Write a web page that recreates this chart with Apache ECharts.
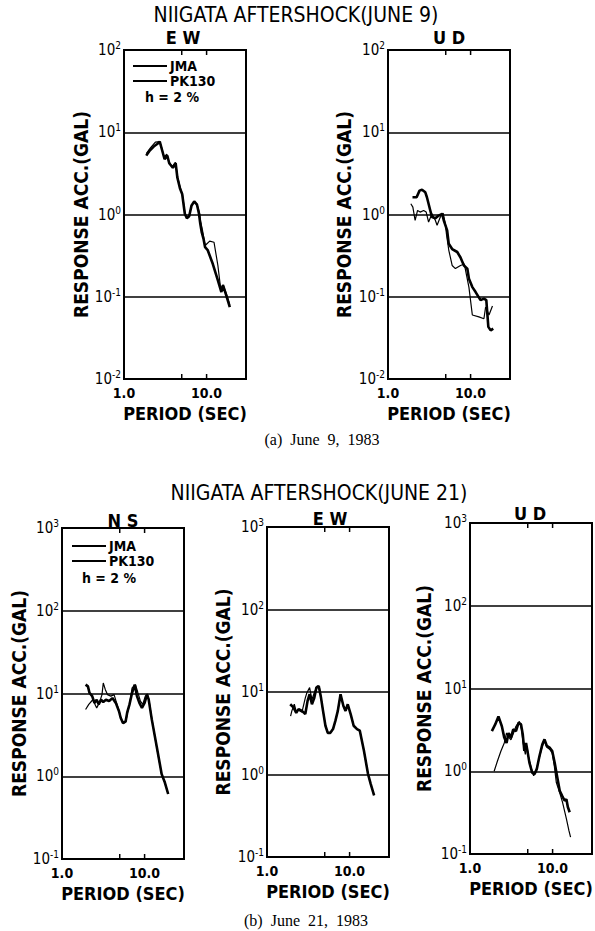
<!DOCTYPE html>
<html>
<head>
<meta charset="utf-8">
<script src="https://cdn.jsdelivr.net/npm/echarts@6/dist/echarts.min.js"></script>
<style>
  html, body { margin: 0; padding: 0; background: #fff; }
  #chart { width: 595px; height: 931px; }
</style>
</head>
<body>
<div id="chart"></div>
<script>
// Acceleration response spectra (damping h = 2 %), points as [period (s), response acc. (gal)]

// June 9, 1983 aftershock
const jun9EwJma = [[1.86,5.2],[2.05,6.0],[2.29,6.7],[2.52,7.2],[2.71,7.7],[2.9,6.0],[3.1,4.7],[3.34,5.2],[3.53,4.2],[3.9,3.7],[4.22,4.2],[4.43,2.8],[4.78,2.05],[5.06,1.78],[5.45,1.02],[5.77,0.9],[6.15,0.95],[6.58,1.29],[7.08,1.44],[7.64,1.32],[8.09,1.02],[8.39,0.77],[8.73,0.61],[9.2,0.5],[9.59,0.4],[10.3,0.37],[11.9,0.25],[13.7,0.158],[15.1,0.114],[15.8,0.138],[17.3,0.104],[19.1,0.075]];
const jun9EwPk130 = [[1.86,5.5],[2.1,6.5],[2.4,7.6],[2.71,7.7],[2.88,6.3],[3.05,5.0],[3.3,5.4],[3.5,4.4],[3.8,3.8],[4.2,4.3],[4.45,2.9],[4.8,2.1],[5.1,1.75],[5.5,1.0],[5.8,0.92],[6.2,1.0],[6.6,1.3],[7.1,1.42],[7.6,1.35],[8.2,1.05],[8.5,0.8],[8.9,0.65],[9.6,0.42],[10.9,0.475],[12.3,0.46],[13.7,0.24],[14.8,0.126],[15.8,0.14],[17.3,0.11],[19.1,0.08]];
const jun9UdJma = [[1.98,1.62],[2.22,1.62],[2.41,1.95],[2.58,2.0],[2.83,1.86],[2.96,1.62],[3.25,1.12],[3.41,0.93],[3.75,0.9],[4.11,0.97],[4.52,1.02],[4.73,0.85],[5.2,0.64],[5.44,0.44],[5.98,0.38],[6.89,0.35],[7.55,0.3],[8.3,0.24],[9.12,0.22],[9.55,0.166],[10.5,0.131],[11.5,0.114],[13.2,0.091],[14.5,0.095],[15.5,0.091],[16.4,0.043],[17.5,0.039],[18.8,0.041]];
const jun9UdPk130 = [[1.89,1.35],[2.0,1.23],[2.13,0.85],[2.28,1.12],[2.45,1.07],[2.7,1.12],[2.9,1.07],[3.1,0.81],[3.41,1.02],[3.74,0.85],[3.93,0.74],[4.3,0.93],[4.65,1.04],[4.95,0.77],[5.1,0.58],[5.44,0.37],[5.98,0.24],[6.55,0.22],[7.55,0.24],[8.4,0.25],[9.55,0.13],[10.5,0.06],[12.6,0.057],[14.5,0.054],[15.2,0.075],[16.7,0.06],[18.4,0.077]];

// June 21, 1983 aftershock
const jun21NsJma = [[1.93,12.8],[2.06,12.2],[2.15,10.2],[2.32,9.3],[2.47,7.7],[2.63,8.4],[2.78,7.4],[2.97,8.4],[3.16,7.9],[3.4,8.4],[3.72,8.1],[4.08,8.8],[4.48,7.7],[4.9,6.1],[5.13,5.1],[5.47,4.4],[5.89,4.6],[6.16,5.9],[6.57,7.4],[7.06,10.2],[7.6,12.8],[8.08,9.3],[8.65,7.7],[9.29,6.7],[10.0,7.7],[10.7,9.7],[11.2,8.5],[12.2,4.9],[14.0,2.3],[16.1,1.06],[17.6,0.84],[19.3,0.61]];
const jun21NsPk130 = [[1.93,6.4],[2.11,7.4],[2.36,8.4],[2.63,6.7],[2.83,7.7],[3.05,9.7],[3.16,13.4],[3.34,11.2],[3.55,9.7],[3.9,9.3],[4.27,9.7],[4.6,7.6],[4.95,6.0],[5.2,4.9],[5.5,4.3],[5.9,4.5],[6.2,5.8],[6.6,7.6],[7.06,11.7],[7.76,12.8],[8.3,10.2],[8.9,8.1],[9.5,7.4],[10.2,9.3],[10.8,9.9],[11.3,8.3],[12.3,4.8],[14.0,2.25],[16.1,1.05],[17.6,0.84],[19.3,0.61]];
const jun21EwJma = [[1.91,7.1],[2.09,6.5],[2.26,5.6],[2.41,6.2],[2.65,5.9],[2.91,5.4],[3.1,7.8],[3.28,9.4],[3.5,7.1],[3.74,8.5],[3.96,11.3],[4.23,11.8],[4.51,8.5],[4.77,5.9],[5.1,3.9],[5.44,3.2],[5.85,3.2],[6.3,3.55],[6.74,4.5],[7.2,5.9],[7.77,9.4],[8.4,6.8],[8.93,5.9],[9.5,7.1],[10.3,5.4],[11.2,3.9],[12.3,3.55],[13.3,3.4],[14.9,1.95],[16.7,1.02],[18.0,0.77],[19.8,0.56]];
const jun21EwPk130 = [[1.93,5.1],[2.0,5.9],[2.14,7.1],[2.26,5.8],[2.41,6.0],[2.65,5.7],[2.91,8.5],[3.04,9.8],[3.28,11.3],[3.5,8.1],[3.74,9.8],[4.06,11.8],[4.3,11.5],[4.51,8.5],[4.77,5.9],[5.1,3.9],[5.44,3.2],[5.85,3.2],[6.3,3.55],[6.74,4.5],[7.2,5.9],[7.77,9.4],[8.4,6.8],[8.93,5.9],[9.5,7.1],[10.3,5.4],[11.2,3.9],[12.3,3.55],[13.3,3.4],[14.9,1.95],[16.7,1.02],[18.0,0.77],[19.8,0.56]];
const jun21UdJma = [[1.84,3.06],[2.02,3.68],[2.21,4.6],[2.43,3.5],[2.6,2.55],[2.77,2.2],[2.93,2.9],[3.13,2.55],[3.34,3.2],[3.6,3.06],[3.88,3.86],[4.15,3.68],[4.35,2.8],[4.55,1.76],[4.77,2.2],[5.0,1.68],[5.24,1.27],[5.66,0.96],[6.03,0.92],[6.43,1.06],[6.94,1.53],[7.5,2.1],[7.98,2.43],[8.52,2.02],[9.2,1.93],[9.9,1.76],[10.6,1.27],[11.3,0.88],[12.2,0.58],[13.1,0.5],[14.0,0.44],[14.7,0.46],[15.3,0.37],[16.1,0.32]];
const jun21UdPk130 = [[1.96,1.0],[2.15,1.33],[2.37,1.76],[2.6,2.2],[2.77,2.9],[2.93,2.6],[3.13,2.4],[3.44,3.06],[3.6,3.5],[3.96,4.0],[4.2,3.2],[4.4,2.2],[4.68,1.6],[4.9,2.0],[5.1,1.5],[5.5,1.1],[5.9,0.88],[6.3,1.0],[6.9,1.45],[7.5,2.0],[8.0,2.3],[8.5,1.95],[9.2,1.85],[9.9,1.65],[10.5,1.15],[11.1,0.73],[12.2,0.55],[13.2,0.42],[14.7,0.265],[15.8,0.19],[16.5,0.16]];

// Axis values and texts
const periodLabels = [1, 10];
const periodTicks = [5, 10];
const seriesNames = ['JMA', 'PK130'];
const titleJun9 = 'NIIGATA AFTERSHOCK(JUNE 9)';
const titleJun21 = 'NIIGATA AFTERSHOCK(JUNE 21)';
const captionJun9 = '(a)  June  9,  1983';
const captionJun21 = '(b)  June  21,  1983';
const dampingNote = 'h = 2 %';
const yAxisTitle = 'RESPONSE ACC.(GAL)';
const xAxisTitle = 'PERIOD (SEC)';

const PERIOD_MIN = 1, PERIOD_MAX = 30;

const SANS = "'Liberation Sans Narrow','DejaVu Sans Condensed','Liberation Sans',Arial,sans-serif";
const SERIF = "'Liberation Serif','DejaVu Serif',serif";

// Panel layout: plot box in pixels plus the decade range of the vertical axis
const panels = [
  { comp: 'EW', box: { left: 124, top: 50, width: 122, height: 329 }, yMin: 0.01, yMax: 100, jma: jun9EwJma, pk: jun9EwPk130, nameGap: 34, tag: [183, 37] },
  { comp: 'UD', box: { left: 388, top: 50, width: 122, height: 329 }, yMin: 0.01, yMax: 100, jma: jun9UdJma, pk: jun9UdPk130, nameGap: 35, tag: [449, 37] },
  { comp: 'NS', box: { left: 62, top: 528, width: 122, height: 331 }, yMin: 0.1, yMax: 1000, jma: jun21NsJma, pk: jun21NsPk130, nameGap: 32, tag: [123, 520] },
  { comp: 'EW', box: { left: 267, top: 527, width: 122, height: 330 }, yMin: 0.1, yMax: 1000, jma: jun21EwJma, pk: jun21EwPk130, nameGap: 35, tag: [330, 518] },
  { comp: 'UD', box: { left: 470, top: 523, width: 122, height: 331 }, yMin: 0.1, yMax: 1000, jma: jun21UdJma, pk: jun21UdPk130, nameGap: 37, tag: [530, 513] }
];

const grids = [], xAxes = [], yAxes = [], series = [];

panels.forEach((p, i) => {
  grids.push(Object.assign({ show: true, borderColor: '#000', borderWidth: 2, backgroundColor: 'transparent' }, p.box));

  xAxes.push({
    type: 'log', logBase: 10, gridIndex: i, min: PERIOD_MIN, max: PERIOD_MAX, position: 'bottom',
    axisLine: { show: false },
    splitLine: { show: false },
    minorTick: { show: false },
    axisTick: { show: false },
    axisLabel: {
      customValues: periodLabels,
      formatter: v => Number(v).toFixed(1),
      color: '#000', fontFamily: SANS, fontSize: 14, fontWeight: 'bold', margin: 7
    },
    name: xAxisTitle, nameLocation: 'middle', nameGap: 25,
    nameTextStyle: { color: '#000', fontFamily: SANS, fontSize: 18, fontWeight: 'bold' }
  });

  yAxes.push({
    type: 'log', logBase: 10, gridIndex: i, min: p.yMin, max: p.yMax,
    axisLine: { show: false },
    axisTick: { show: false },
    minorTick: { show: false },
    splitLine: { show: true, lineStyle: { color: '#000', width: 1.5 } },
    axisLabel: {
      margin: 3,
      formatter: v => '{b|10}{s|' + Math.round(Math.log10(v)) + '}',
      rich: {
        b: { fontFamily: SANS, fontSize: 15, color: '#000' },
        s: { fontFamily: SANS, fontSize: 10, color: '#000', verticalAlign: 'top', padding: [0, 0, 9, 0] }
      }
    },
    name: yAxisTitle, nameLocation: 'middle', nameGap: p.nameGap, nameRotate: 90,
    nameTextStyle: { color: '#000', fontFamily: SANS, fontSize: 19, fontWeight: 'bold' }
  });

  series.push({
    type: 'line', name: seriesNames[0], xAxisIndex: i, yAxisIndex: i, data: p.jma,
    symbol: 'none', lineStyle: { color: '#000', width: 2.6 }, itemStyle: { color: '#000' }, z: 3
  });
  series.push({
    type: 'line', name: seriesNames[1], xAxisIndex: i, yAxisIndex: i, data: p.pk,
    symbol: 'none', lineStyle: { color: '#000', width: 1.2 }, itemStyle: { color: '#000' }, z: 4
  });
});

const legendBase = {
  data: seriesNames, orient: 'vertical', itemWidth: 34, itemHeight: 14, itemGap: 1,
  selectedMode: false,
  itemStyle: { color: 'rgba(0,0,0,0)', borderWidth: 0, opacity: 0 },
  textStyle: { color: '#000', fontFamily: SANS, fontSize: 14, fontWeight: 'bold', padding: [0, 0, 0, -2] }
};

const txt = (text, x, y, font) => ({
  type: 'text', silent: true,
  style: { text, x, y, font, fill: '#000', textAlign: 'center', textVerticalAlign: 'middle' }
});

const graphics = [
  txt(titleJun9, 296, 15, `21px ${SANS}`),
  txt(titleJun21, 319, 493, `21px ${SANS}`),
  txt(captionJun9, 322, 439, `16px ${SERIF}`),
  txt(captionJun21, 306, 920, `16px ${SERIF}`),
  txt(dampingNote, 172, 97, `bold 14px ${SANS}`),
  txt(dampingNote, 109, 578, `bold 14px ${SANS}`)
];
panels.forEach(p => graphics.push(txt(p.comp.split('').join(' '), p.tag[0], p.tag[1], `bold 18px ${SANS}`)));

const chart = echarts.init(document.getElementById('chart'), null, { renderer: 'svg' });
chart.setOption({
  backgroundColor: '#fff',
  animation: false,
  grid: grids,
  xAxis: xAxes,
  yAxis: yAxes,
  series: series,
  legend: [
    Object.assign({}, legendBase, { left: 127, top: 54 }),
    Object.assign({}, legendBase, { left: 66, top: 534 })
  ],
  graphic: graphics
});

// Inner tick marks at the periodTicks values on the bottom and top edges,
// placed through the period axis of each panel
const TICK_LEN = 5;
panels.forEach((p, i) => {
  const yBottom = chart.convertToPixel({ yAxisIndex: i }, p.yMin);
  const yTop = chart.convertToPixel({ yAxisIndex: i }, p.yMax);
  periodTicks.forEach(t => {
    const x = chart.convertToPixel({ xAxisIndex: i }, t);
    [[yBottom, yBottom - TICK_LEN], [yTop, yTop + TICK_LEN]].forEach(([y1, y2]) => graphics.push({
      type: 'line', silent: true, z: 10,
      shape: { x1: x, y1: y1, x2: x, y2: y2 },
      style: { stroke: '#000', lineWidth: 1.5 }
    }));
  });
});
chart.setOption({ graphic: graphics });
</script>
</body>
</html>
